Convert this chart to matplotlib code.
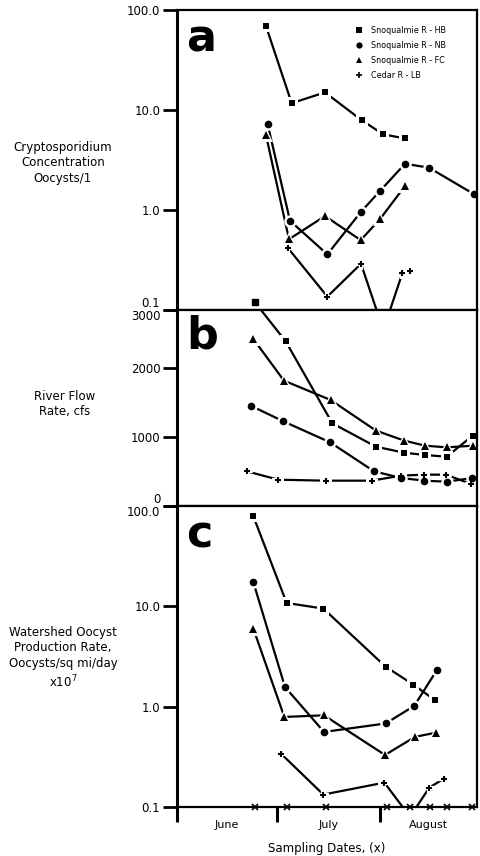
import matplotlib.pyplot as plt
from matplotlib.lines import Line2D
from matplotlib.ticker import FixedLocator, NullLocator

# x values are days counted from June 1
# panel a - Cryptosporidium concentration, oocysts/l
a_hb_x = [26.7, 34.4, 44.4, 55.4, 61.9, 68.4]
a_hb_y = [69, 11.7, 15.0, 7.9, 5.7, 5.2]
a_nb_x = [27.2, 33.9, 45.1, 55.2, 60.9, 68.4, 75.6, 89.1]
a_nb_y = [7.2, 0.78, 0.36, 0.96, 1.55, 2.9, 2.65, 1.44]
a_fc_x = [26.7, 33.6, 44.4, 55.1, 60.9, 68.4]
a_fc_y = [5.6, 0.51, 0.87, 0.50, 0.81, 1.74]
a_lb_x = [33.2, 45.1, 55.2, 61.9, 67.6, 69.9]
a_lb_y = [0.42, 0.136, 0.29, 0.063, 0.233, 0.247]

# panel b - river flow rate, cfs
b_hb_x = [23.4, 32.6, 46.6, 59.7, 68.2, 74.4, 80.9, 88.7]
b_hb_y = [2950, 2387, 1198, 859, 772, 739, 714, 1019]
b_nb_x = [22.1, 31.9, 45.9, 59.1, 67.2, 74.2, 80.9, 88.6]
b_nb_y = [1454, 1227, 923, 503, 406, 367, 352, 406]
b_fc_x = [22.9, 32.1, 46.1, 59.7, 68.2, 74.4, 80.9, 88.9]
b_fc_y = [2420, 1816, 1536, 1092, 947, 874, 850, 874]
b_lb_x = [20.9, 30.4, 44.7, 58.4, 67.2, 74.2, 80.7, 88.2]
b_lb_y = [503, 381, 367, 367, 440, 454, 454, 319]

# panel c - watershed oocyst production rate, x10^7 oocysts/sq mi/day
c_hb_x = [22.9, 32.9, 43.9, 62.6, 70.9, 77.4]
c_hb_y = [79, 10.8, 9.5, 2.5, 1.66, 1.16]
c_nb_x = [22.9, 32.4, 44.1, 62.6, 71.2, 77.9]
c_nb_y = [17.4, 1.57, 0.56, 0.68, 1.02, 2.3]
c_fc_x = [22.9, 32.2, 44.1, 62.4, 71.4, 77.6]
c_fc_y = [6.0, 0.79, 0.82, 0.33, 0.50, 0.55]
c_lb_x = [31.2, 43.9, 62.2, 69.9, 75.7, 80.1]
c_lb_y = [0.34, 0.133, 0.175, 0.08, 0.156, 0.192]

sample_days = [23.4, 33.0, 44.7, 63.0, 69.9, 75.9, 81.0, 88.5]
month_edges = [0, 30, 61]
month_mid = [15, 45.5, 75.5]
month_names = ['June', 'July', 'August']

legend_labels = ['Snoqualmie R - HB', 'Snoqualmie R - NB',
                 'Snoqualmie R - FC', 'Cedar R - LB']
marks = ['s', 'o', '^', '+']
msizes = [5, 5.5, 6, 5]

plt.rcParams['font.family'] = 'DejaVu Sans'

fig = plt.figure(figsize=(4.8, 8.56), dpi=100)
L, W = 177/480, 300/480
ax_a = fig.add_axes([L, 1-310/856, W, 300/856])
ax_b = fig.add_axes([L, 1-506/856, W, 196/856])
ax_c = fig.add_axes([L, 1-807/856, W, 301/856])


def series(ax, x, y, m, ms):
    ax.plot(x, y, '-', color='k', lw=1.6, zorder=2)
    ax.plot(x, y, ls='none', marker=m, ms=ms+3.5, color='white',
            mew=3 if m == '+' else 0, zorder=3)
    ax.plot(x, y, ls='none', marker=m, ms=ms, color='k',
            mew=1.5 if m == '+' else 0, zorder=4)


panels = [
    (ax_a, [(a_hb_x, a_hb_y), (a_nb_x, a_nb_y), (a_fc_x, a_fc_y), (a_lb_x, a_lb_y)]),
    (ax_b, [(b_hb_x, b_hb_y), (b_nb_x, b_nb_y), (b_fc_x, b_fc_y), (b_lb_x, b_lb_y)]),
    (ax_c, [(c_hb_x, c_hb_y), (c_nb_x, c_nb_y), (c_fc_x, c_fc_y), (c_lb_x, c_lb_y)]),
]
for ax, data in panels:
    for (x, y), m, ms in zip(data, marks, msizes):
        series(ax, x, y, m, ms)
    ax.set_xlim(0, 90)
    for s in ax.spines.values():
        s.set_linewidth(1.6)
        s.set_zorder(6)
    ax.spines['left'].set_linewidth(2.2)
    ax.tick_params(axis='y', direction='out', length=10, width=2, labelsize=8.5, pad=2)

# first HB flow point sits above the panel top
ax_b.plot(b_hb_x[0], b_hb_y[0], ls='none', marker='s', ms=5, color='k',
          clip_on=False, zorder=5)

for ax in (ax_a, ax_c):
    ax.set_yscale('log')
    ax.set_ylim(0.1, 100)
    ax.yaxis.set_major_locator(FixedLocator([0.1, 1, 10, 100]))
    ax.yaxis.set_minor_locator(NullLocator())
    ax.set_yticklabels(['0.1', '1.0', '10.0', '100.0'])

ax_b.set_ylim(0, 2840)
ax_b.set_yticks([0, 1000, 2000, 2840])
ax_b.set_yticklabels(['0', '1000', '2000', '3000'])

# keep the labels at shared panel edges apart
ax_a.get_yticklabels()[0].set_va('bottom')
ax_b.get_yticklabels()[0].set_va('bottom')
ax_b.get_yticklabels()[-1].set_va('top')
ax_c.get_yticklabels()[-1].set_va('top')

for ax in (ax_a, ax_b):
    ax.set_xticks([])

ax_c.set_xticks(month_edges)
ax_c.set_xticklabels([])
ax_c.tick_params(axis='x', which='major', direction='out', length=11, width=2.2)
ax_c.set_xticks(month_mid, minor=True)
ax_c.set_xticklabels(month_names, minor=True, fontsize=8)
ax_c.tick_params(axis='x', which='minor', length=0, pad=9)
ax_c.plot(sample_days, [0.1]*len(sample_days), ls='none', marker='x', ms=4,
          mew=1.2, color='k', clip_on=False, zorder=7)
ax_c.set_xlabel('Sampling Dates, (x)', fontsize=8.5, labelpad=9)

for ax, letter in zip((ax_a, ax_b, ax_c), 'abc'):
    ax.text(0.03, 0.975, letter, transform=ax.transAxes, fontsize=32,
            fontweight='bold', va='top', ha='left')

handles = [Line2D([], [], ls='none', marker=m, ms=ms-1, color='k',
                  mew=1.2 if m == '+' else 0) for m, ms in zip(marks, msizes)]
ax_a.legend(handles, legend_labels, loc='upper left', bbox_to_anchor=(0.565, 0.972),
            frameon=False, fontsize=5.8, handlelength=1.2, handletextpad=1.0,
            labelspacing=0.75)

fig.text(63/480, 1-163/856, 'Cryptosporidium\nConcentration\nOocysts/1',
         ha='center', va='center', fontsize=8.5, linespacing=1.25)
fig.text(65/480, 1-404/856, 'River Flow\nRate, cfs',
         ha='center', va='center', fontsize=8.5, linespacing=1.25)
fig.text(63/480, 1-658/856,
         'Watershed Oocyst\nProduction Rate,\nOocysts/sq mi/day\nx10$^{7}$',
         ha='center', va='center', fontsize=8.5, linespacing=1.25)

plt.savefig('out.png', dpi=100)
